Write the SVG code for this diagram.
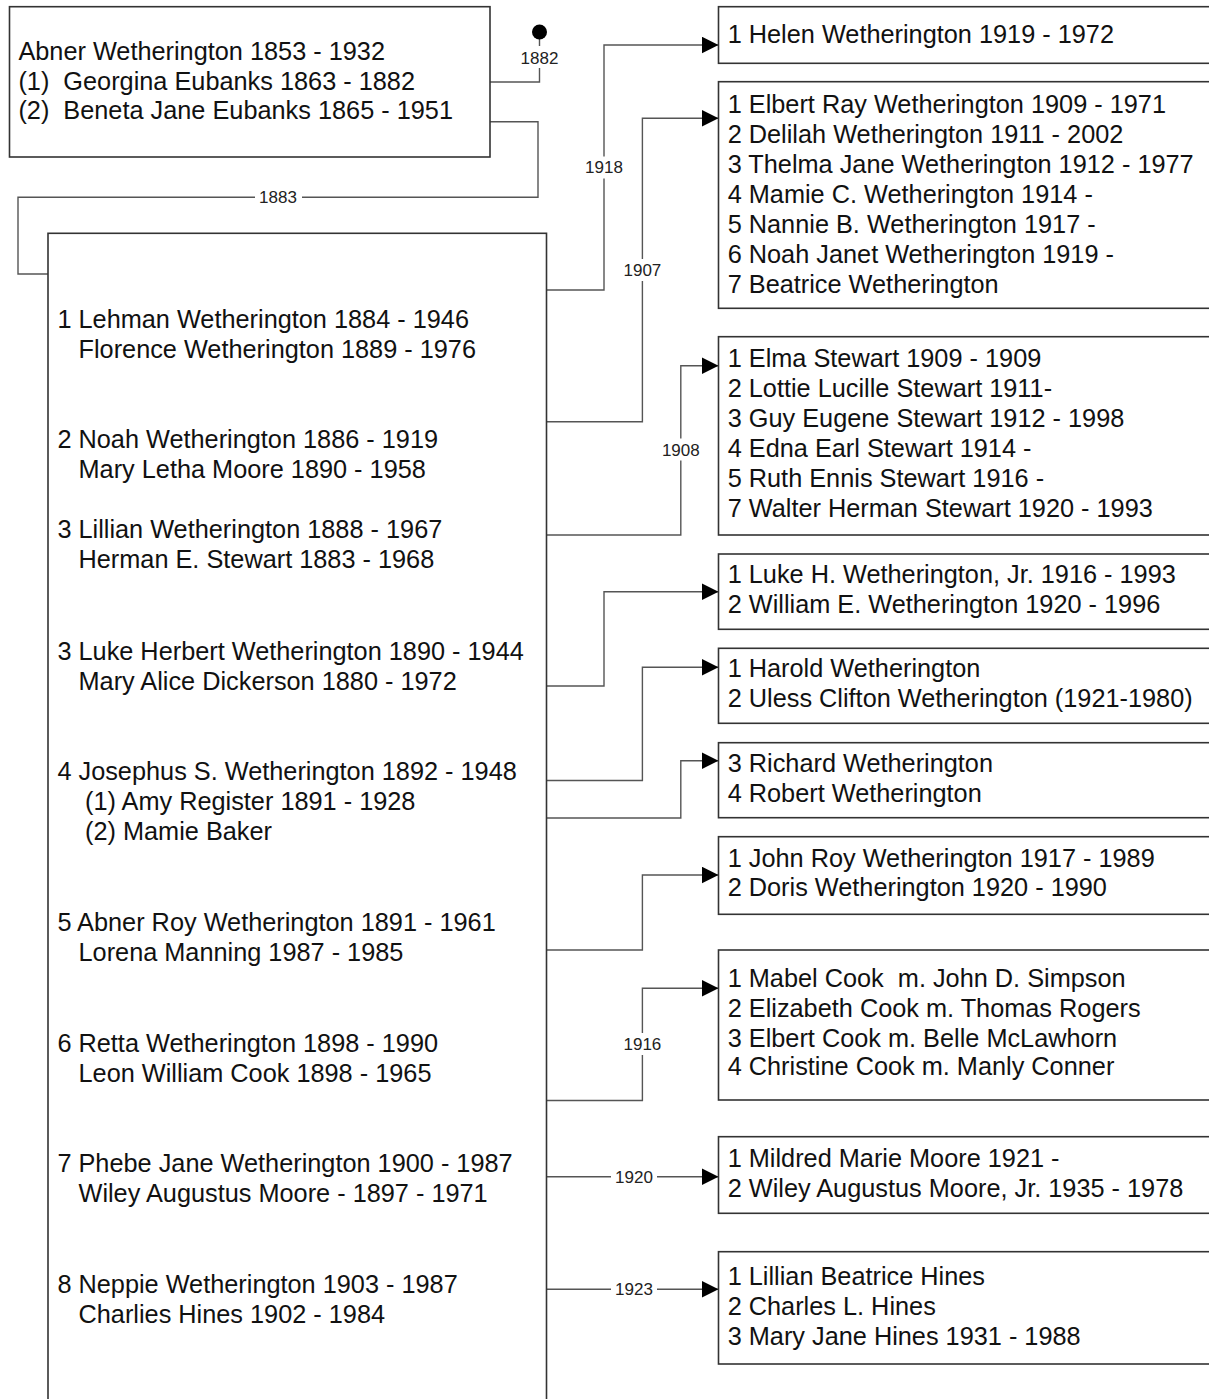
<svg xmlns="http://www.w3.org/2000/svg" width="1209" height="1399" viewBox="0 0 1209 1399">
<style>
.box{fill:#fff;stroke:#333;stroke-width:1.6}
.t{font-family:"Liberation Sans",Arial,sans-serif;font-size:25.3px;fill:#111;white-space:pre}
.c{fill:none;stroke:#555;stroke-width:1.4}
.lb{fill:#fff;stroke:none}
.l{font-family:"Liberation Sans",Arial,sans-serif;font-size:17px;fill:#222;text-anchor:middle}
</style>
<defs>
<marker id="arr" markerUnits="userSpaceOnUse" markerWidth="18" markerHeight="18" refX="17" refY="8.5" orient="auto">
<path d="M0,0 L17,8.5 L0,17 Z" fill="#000"/>
</marker>
</defs>
<rect width="1209" height="1399" fill="#fff"/>

<g id="connectors">
<path class="c" d="M490,82 H539.5 V32"/>
<circle cx="539.5" cy="32" r="7.5" fill="#000"/>
<path class="c" d="M490,121.7 H538 V197.3 H18 V274 H48"/>
<path class="c" marker-end="url(#arr)" d="M546.5,290 H604 V45 H718.5"/>
<path class="c" marker-end="url(#arr)" d="M546.5,421.7 H642.4 V118.3 H718.5"/>
<path class="c" marker-end="url(#arr)" d="M546.5,535 H680.8 V365.7 H718.5"/>
<path class="c" marker-end="url(#arr)" d="M546.5,686 H604 V591.7 H718.5"/>
<path class="c" marker-end="url(#arr)" d="M546.5,780.5 H642.4 V667.3 H718.5"/>
<path class="c" marker-end="url(#arr)" d="M546.5,818 H680.8 V760.7 H718.5"/>
<path class="c" marker-end="url(#arr)" d="M546.5,950 H642.4 V875 H718.5"/>
<path class="c" marker-end="url(#arr)" d="M546.5,1100.5 H642.4 V988.3 H718.5"/>
<path class="c" marker-end="url(#arr)" d="M546.5,1176.7 H718.5"/>
<path class="c" marker-end="url(#arr)" d="M546.5,1289.3 H718.5"/>
<rect class="lb" x="519" y="46" width="41" height="22"/>
<text class="l" x="539.5" y="63.5">1882</text>
<rect class="lb" x="255" y="187" width="47" height="21"/>
<text class="l" x="278" y="203">1883</text>
<rect class="lb" x="583" y="156.5" width="42" height="22"/>
<text class="l" x="604" y="173">1918</text>
<rect class="lb" x="621" y="259" width="42" height="22"/>
<text class="l" x="642.4" y="276">1907</text>
<rect class="lb" x="660" y="438.5" width="42" height="22"/>
<text class="l" x="680.8" y="455.5">1908</text>
<rect class="lb" x="621" y="1033" width="42" height="22"/>
<text class="l" x="642.4" y="1050">1916</text>
<rect class="lb" x="611" y="1166" width="46" height="21"/>
<text class="l" x="634" y="1182.7">1920</text>
<rect class="lb" x="611" y="1279" width="46" height="21"/>
<text class="l" x="634" y="1295.3">1923</text>
</g>

<g id="abner">
<rect class="box" x="9.5" y="6.7" width="480.5" height="150.3"/>
<text class="t" x="18.4" y="60">Abner Wetherington 1853 - 1932</text>
<text class="t" x="18.4" y="89.5">(1)  Georgina Eubanks 1863 - 1882</text>
<text class="t" x="18.4" y="119">(2)  Beneta Jane Eubanks 1865 - 1951</text>
</g>

<g id="children">
<rect class="box" x="48" y="233.3" width="498.5" height="1200"/>
<text class="t" x="57.4" y="328.3">1 Lehman Wetherington 1884 - 1946</text>
<text class="t" x="78.5" y="358.3">Florence Wetherington 1889 - 1976</text>
<text class="t" x="57.4" y="447.7">2 Noah Wetherington 1886 - 1919</text>
<text class="t" x="78.5" y="477.7">Mary Letha Moore 1890 - 1958</text>
<text class="t" x="57.4" y="538.3">3 Lillian Wetherington 1888 - 1967</text>
<text class="t" x="78.5" y="568.3">Herman E. Stewart 1883 - 1968</text>
<text class="t" x="57.4" y="660">3 Luke Herbert Wetherington 1890 - 1944</text>
<text class="t" x="78.5" y="690">Mary Alice Dickerson 1880 - 1972</text>
<text class="t" x="57.4" y="780">4 Josephus S. Wetherington 1892 - 1948</text>
<text class="t" x="85" y="810">(1) Amy Register 1891 - 1928</text>
<text class="t" x="85" y="840">(2) Mamie Baker</text>
<text class="t" x="57.4" y="931">5 Abner Roy Wetherington 1891 - 1961</text>
<text class="t" x="78.5" y="961">Lorena Manning 1987 - 1985</text>
<text class="t" x="57.4" y="1052.3">6 Retta Wetherington 1898 - 1990</text>
<text class="t" x="78.5" y="1081.7">Leon William Cook 1898 - 1965</text>
<text class="t" x="57.4" y="1172.3">7 Phebe Jane Wetherington 1900 - 1987</text>
<text class="t" x="78.5" y="1202.3">Wiley Augustus Moore - 1897 - 1971</text>
<text class="t" x="57.4" y="1292.7">8 Neppie Wetherington 1903 - 1987</text>
<text class="t" x="78.5" y="1322.7">Charlies Hines 1902 - 1984</text>
</g>

<g id="lehman-children">
<rect class="box" x="718.5" y="6.7" width="500" height="56.6"/>
<text class="t" x="727.7" y="42.7">1 Helen Wetherington 1919 - 1972</text>
</g>

<g id="noah-children">
<rect class="box" x="718.5" y="81.7" width="500" height="226.6"/>
<text class="t" x="727.7" y="112.7">1 Elbert Ray Wetherington 1909 - 1971</text>
<text class="t" x="727.7" y="142.7">2 Delilah Wetherington 1911 - 2002</text>
<text class="t" x="727.7" y="172.7">3 Thelma Jane Wetherington 1912 - 1977</text>
<text class="t" x="727.7" y="202.7">4 Mamie C. Wetherington 1914 -</text>
<text class="t" x="727.7" y="232.7">5 Nannie B. Wetherington 1917 -</text>
<text class="t" x="727.7" y="262.7">6 Noah Janet Wetherington 1919 -</text>
<text class="t" x="727.7" y="292.7">7 Beatrice Wetherington</text>
</g>

<g id="lillian-children">
<rect class="box" x="718.5" y="336.7" width="500" height="198.3"/>
<text class="t" x="727.7" y="366.7">1 Elma Stewart 1909 - 1909</text>
<text class="t" x="727.7" y="397.3">2 Lottie Lucille Stewart 1911-</text>
<text class="t" x="727.7" y="427.3">3 Guy Eugene Stewart 1912 - 1998</text>
<text class="t" x="727.7" y="457.3">4 Edna Earl Stewart 1914 -</text>
<text class="t" x="727.7" y="487.3">5 Ruth Ennis Stewart 1916 -</text>
<text class="t" x="727.7" y="517.3">7 Walter Herman Stewart 1920 - 1993</text>
</g>

<g id="luke-children">
<rect class="box" x="718.5" y="554" width="500" height="75.3"/>
<text class="t" x="727.7" y="583.3">1 Luke H. Wetherington, Jr. 1916 - 1993</text>
<text class="t" x="727.7" y="613.3">2 William E. Wetherington 1920 - 1996</text>
</g>

<g id="josephus-children-1">
<rect class="box" x="718.5" y="648.3" width="500" height="75"/>
<text class="t" x="727.7" y="677.3">1 Harold Wetherington</text>
<text class="t" x="727.7" y="707.3">2 Uless Clifton Wetherington (1921-1980)</text>
</g>

<g id="josephus-children-2">
<rect class="box" x="718.5" y="742.7" width="500" height="75"/>
<text class="t" x="727.7" y="771.7">3 Richard Wetherington</text>
<text class="t" x="727.7" y="801.7">4 Robert Wetherington</text>
</g>

<g id="abner-roy-children">
<rect class="box" x="718.5" y="836.7" width="500" height="77.6"/>
<text class="t" x="727.7" y="866.7">1 John Roy Wetherington 1917 - 1989</text>
<text class="t" x="727.7" y="896">2 Doris Wetherington 1920 - 1990</text>
</g>

<g id="retta-children">
<rect class="box" x="718.5" y="950" width="500" height="150"/>
<text class="t" x="727.7" y="986.7">1 Mabel Cook  m. John D. Simpson</text>
<text class="t" x="727.7" y="1016.7">2 Elizabeth Cook m. Thomas Rogers</text>
<text class="t" x="727.7" y="1046.7">3 Elbert Cook m. Belle McLawhorn</text>
<text class="t" x="727.7" y="1075">4 Christine Cook m. Manly Conner</text>
</g>

<g id="phebe-children">
<rect class="box" x="718.5" y="1136.7" width="500" height="76.6"/>
<text class="t" x="727.7" y="1167.3">1 Mildred Marie Moore 1921 -</text>
<text class="t" x="727.7" y="1196.7">2 Wiley Augustus Moore, Jr. 1935 - 1978</text>
</g>

<g id="neppie-children">
<rect class="box" x="718.5" y="1251.7" width="500" height="112.3"/>
<text class="t" x="727.7" y="1285">1 Lillian Beatrice Hines</text>
<text class="t" x="727.7" y="1315">2 Charles L. Hines</text>
<text class="t" x="727.7" y="1345">3 Mary Jane Hines 1931 - 1988</text>
</g>
</svg>
